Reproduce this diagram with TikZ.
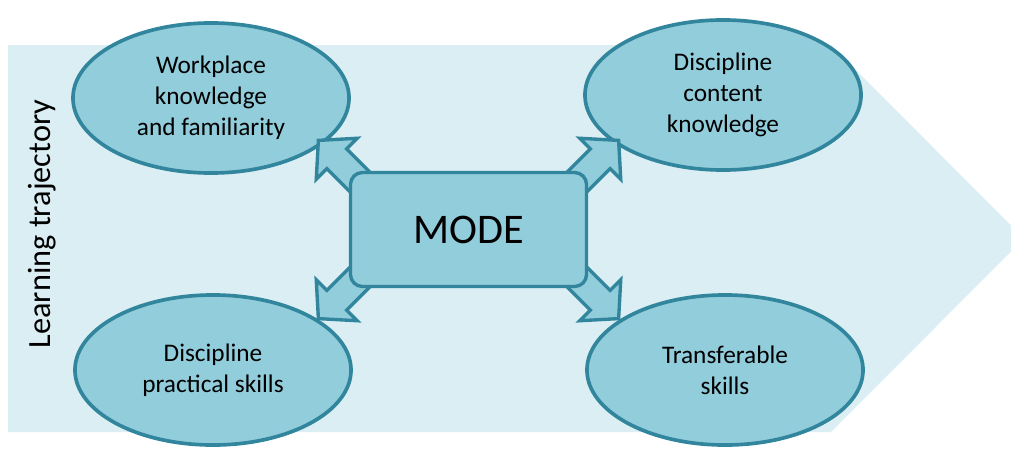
\documentclass[tikz,border=0pt]{standalone}
\usepackage{fontspec}
\setmainfont{Carlito}
\usetikzlibrary{shapes.geometric}
\definecolor{aqualight}{HTML}{DAEEF3}
\definecolor{aquamid}{HTML}{92CDDC}
\definecolor{aquadark}{HTML}{31859C}
\tikzstyle{topic} = [ellipse, draw=aquadark, fill=aquamid, line width=2.6pt, minimum width=6.9cm, minimum height=3.75cm, inner sep=0pt, align=center, font=\fontsize{18}{22}\selectfont]
\tikzstyle{hub} = [rectangle, draw=aquadark, fill=aquamid, line width=2.4pt, rounded corners=0.3cm, minimum width=5.9cm, minimum height=2.85cm, font=\fontsize{30}{36}\selectfont]
\tikzstyle{blockarrow} = [draw=aquadark, fill=aquamid, line width=2.4pt, line join=miter]
\pgfdeclarelayer{back}
\pgfdeclarelayer{front}
\pgfsetlayers{back,main,front}

\begin{document}
\begin{tikzpicture}[x=0.025cm, y=0.025cm]
	\useasboundingbox (0,0) rectangle (1011,450);
	% trajectory chevron behind everything
	\begin{pgfonlayer}{back}
		\fill[aqualight] (8,405) -- (831,405) -- (1024,211.5) -- (831,18) -- (8,18) -- cycle;
	\end{pgfonlayer}
	\node[rotate=90, font=\fontsize{23}{28}\selectfont] (traj) at (42,226) {Learning trajectory};
	% the four outcomes
	\node[topic] (work) at (211,352) {Workplace\\knowledge\\and familiarity};
	\node[topic] (content) at (723,355) {Discipline\\content\\knowledge};
	\node[topic] (practical) at (213,80) {Discipline\\practical skills};
	\node[topic] (transfer) at (725,80) {Transferable\\skills};
	% central box
	\begin{pgfonlayer}{front}
		\node[hub] (mode) at (468.5,220.5) {MODE};
	\end{pgfonlayer}
	% block arrows out of the box corners
	\foreach \corner/\ang in {north west/135, north east/45, south west/225, south east/-45}
		\draw[blockarrow, shift={(mode.\corner)}, rotate=\ang] (-30,-14) -- (17,-14) -- (17,-29) -- (43,0) -- (17,29) -- (17,14) -- (-30,14) -- cycle;
\end{tikzpicture}
\end{document}
